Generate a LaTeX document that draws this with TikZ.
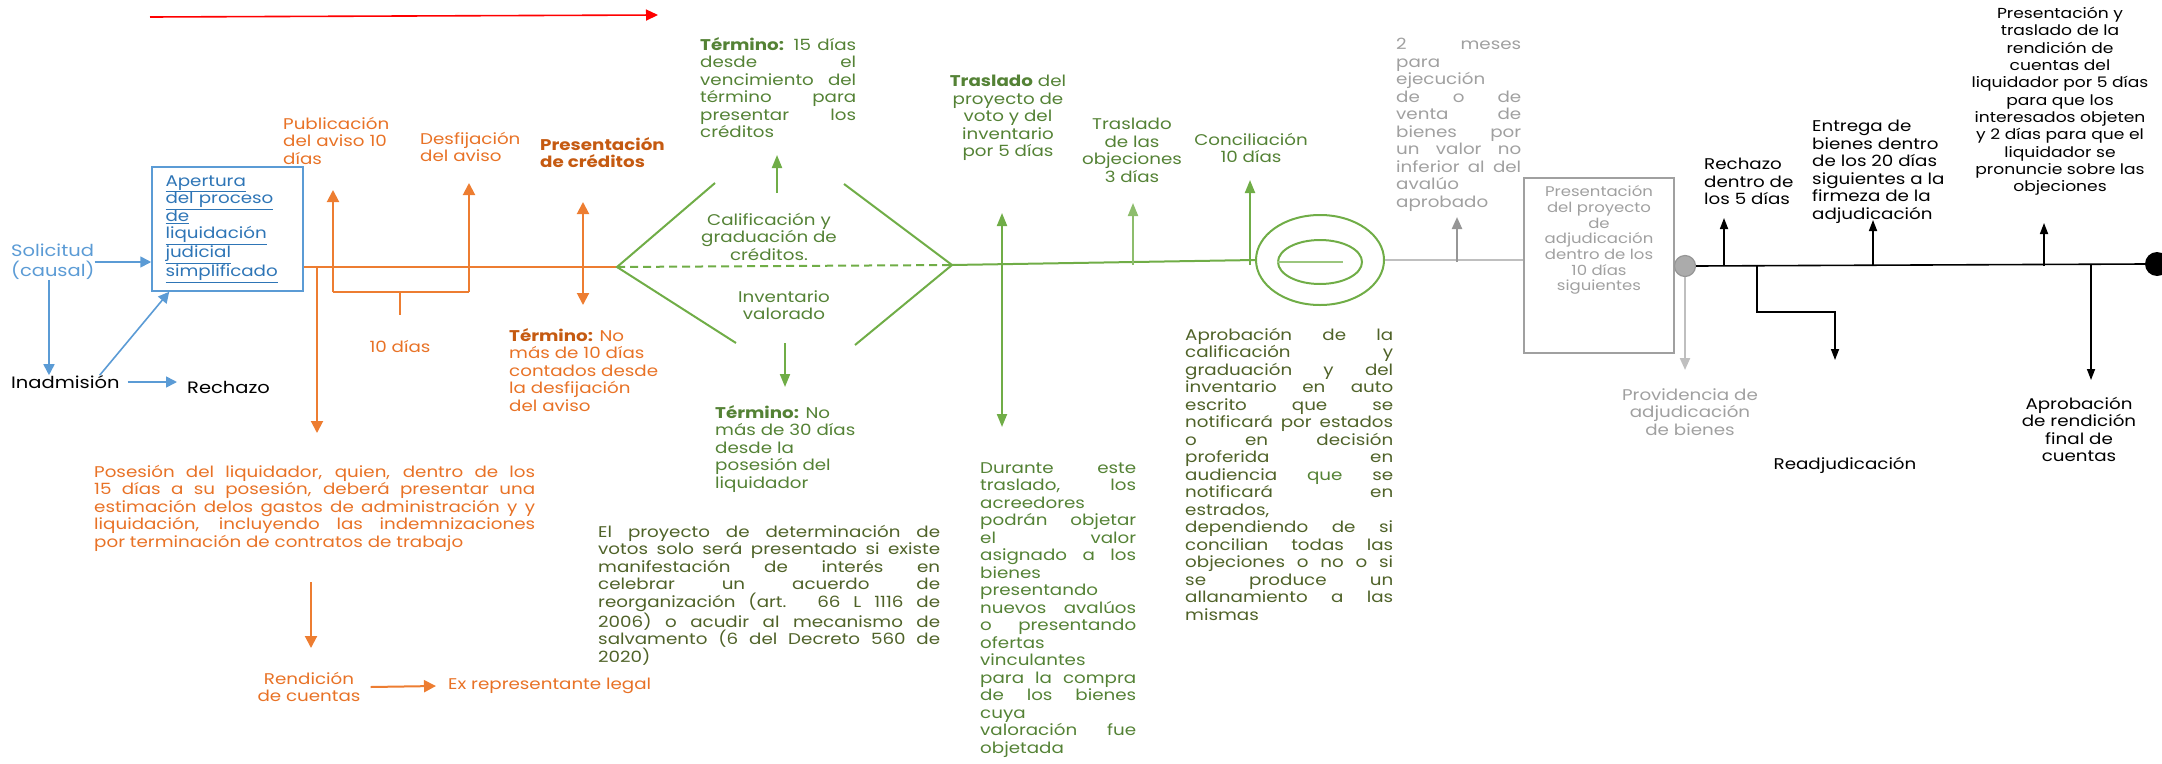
\documentclass[tikz,border=0pt]{standalone}
\usepackage{fontspec}
\setmainfont{Poppins}[FakeStretch=1.18]
\usetikzlibrary{arrows.meta, positioning, shapes.geometric}

\definecolor{naranja}{RGB}{237,125,49}
\definecolor{naranjaT}{RGB}{232,114,38}
\definecolor{naranjaO}{RGB}{197,90,17}
\definecolor{azul}{RGB}{91,155,213}
\definecolor{azulT}{RGB}{46,117,182}
\definecolor{verde}{RGB}{112,173,71}
\definecolor{verdeT}{RGB}{84,130,53}
\definecolor{oliva}{RGB}{79,98,40}
\definecolor{grisL}{RGB}{191,191,191}
\definecolor{grisT}{RGB}{160,160,160}
\definecolor{grisC}{RGB}{150,150,150}

\hyphenpenalty=10000
\exhyphenpenalty=10000
\tolerance=9999
\hbadness=10000
\hfuzz=20pt
\newcommand{\txt}{\fontsize{15.5}{17.5}\selectfont}
\newcommand{\txtg}{\fontsize{16.5}{19.5}\selectfont}

\begin{document}
\begin{tikzpicture}[x=1pt, y=-1pt, font=\txt,
    lbl/.style={inner sep=0pt, align=left},
    just/.style={inner sep=0pt, align=justify, anchor=north west},
    oline/.style={draw=naranja, line width=2pt},
    oarrow/.style={oline, -{Triangle[width=12pt,length=12pt]}},
    gline/.style={draw=verde, line width=2pt},
    garrow/.style={gline, -{Triangle[width=10pt,length=13pt]}},
    bline/.style={draw=azul, line width=1.6pt},
    barrow/.style={bline, -{Triangle[width=11pt,length=11pt]}},
    kline/.style={draw=black, line width=1.6pt},
    karrow/.style={kline, -{Triangle[width=8pt,length=11pt]}},
    grline/.style={draw=grisL, line width=2.2pt},
    grarrow/.style={grline, -{Triangle[width=10pt,length=12pt]}}]

    \useasboundingbox (0,0) rectangle (2162,763);

    % Flecha roja superior
    \coordinate (rojoA) at (150,17);
    \coordinate (rojoB) at (658,15);
    \draw[red, line width=1.6pt, -{Triangle[width=11pt,length=12pt]}] (rojoA) -- (rojoB);

    % Inicio: solicitud, inadmision, rechazo
    \node[lbl, anchor=west, text=azul, font=\txtg] (sol) at (11,262) {Solicitud\\(causal)};
    \node[lbl, anchor=west, font=\txtg] (inad) at (11,382) {Inadmisión};
    \node[lbl, anchor=west, font=\txtg] (rech) at (187,387) {Rechazo};
    \node[draw=azul, line width=1.5pt, minimum width=151, minimum height=124,
          text width=124, align=left, inner sep=0pt, text=azulT] (apertura) at (227.5,229)
          {\underline{Apertura}\\\underline{del proceso}\\\underline{de}\\\underline{liquidación}\\\underline{judicial}\\\underline{simplificado}};

    \draw[barrow] (sol.east) -- (apertura.west |- sol.east);
    \draw[barrow] ([xshift=38]sol.south west) -- ([xshift=38]sol.south west |- inad.north);
    \draw[barrow] ([xshift=-20]inad.north east) -- ([xshift=18]apertura.south west);
    \draw[barrow] ([xshift=8]inad.east) -- ([xshift=-10]rech.west |- inad.east);

    % Tramo naranja
    \coordinate (dmL) at (617,267);
    \draw[oline] (apertura.east |- dmL) -- (dmL);

    \node[lbl, anchor=north west, text=naranjaT] (pub) at (283,117) {Publicación\\del aviso 10\\días};
    \node[lbl, anchor=north west, text=naranjaT] (desf) at (420,132) {Desfijación\\del aviso};
    \node[lbl, anchor=north west, text=naranjaO, font=\txt\bfseries] (prescred) at (540,137) {Presentación\\de créditos};
    \node[lbl, anchor=north west, text=naranjaT] (term10) at (509,328)
          {{\color{naranjaO}\textbf{Término:}} No\\más de 10 días\\contados desde\\la desfijación\\del aviso};
    \node[lbl, text=naranjaT] (diez) at (400,347) {10 días};

    \coordinate (brL) at (333,292);
    \coordinate (brLt) at (333,190);
    \coordinate (brR) at (469,292);
    \coordinate (brRt) at (469,183);
    \coordinate (brM) at (400,292);
    \coordinate (brMb) at (400,315);
    \draw[oarrow] (brL) -- (brLt);
    \draw[oarrow] (brR) -- (brRt);
    \draw[oline] (brL) -- (brR);
    \draw[oline, line width=1.4pt] (brM) -- (brMb);

    \coordinate (dA) at (583,202);
    \coordinate (dB) at (583,305);
    \draw[oline, {Triangle[width=12pt,length=12pt]}-{Triangle[width=12pt,length=12pt]}] (dA) -- (dB);

    \node[just, text width=441, text=naranjaT] (posesion) at (94,465)
          {Posesión del liquidador, quien, dentro de los\linebreak
           15 días a su posesión, deberá presentar una\linebreak
           estimación delos gastos de administración y y\linebreak
           liquidación, incluyendo las indemnizaciones\linebreak
           por terminación de contratos de trabajo};
    \coordinate (oS) at (317,267);
    \coordinate (oE) at (317,433);
    \draw[oarrow] (oS) -- (oE);

    \node[lbl, align=center, text=naranjaT] (rendicion) at (309,687) {Rendición\\de cuentas};
    \node[lbl, anchor=west, text=naranjaT] (exrep) at (448,686) {Ex representante legal};
    \coordinate (rA) at (311,582);
    \coordinate (rB) at (311,648);
    \draw[oarrow] (rA) -- (rB);
    \draw[oarrow] ([xshift=10]rendicion.east) -- ([xshift=-12]exrep.west);

    % Calificacion e inventario
    \coordinate (dmR) at (952,265);
    \coordinate (dTL) at (715,183);
    \coordinate (dTR) at (844,184);
    \coordinate (dBL) at (736,343);
    \coordinate (dBR) at (855,345);
    \draw[gline] (dTL) -- (dmL) -- (dBL);
    \draw[gline] (dTR) -- (dmR) -- (dBR);
    \draw[gline, dashed, dash pattern=on 8pt off 5pt] (dmL) -- (dmR);

    \node[lbl, align=center, anchor=north, text=verdeT] (calif) at (769,213) {Calificación y\\graduación de\\créditos.};
    \node[lbl, align=center, anchor=north, text=verdeT] (invent) at (784,290) {Inventario\\valorado};
    \node[just, text width=156, text=verdeT] (term15) at (700,37)
          {\textbf{Término:} 15 días\linebreak desde el\linebreak vencimiento del\linebreak
           término para\linebreak presentar los\linebreak créditos};
    \node[lbl, anchor=north west, text=verdeT] (term30) at (715,405)
          {\textbf{Término:} No\\más de 30 días\\desde la\\posesión del\\liquidador};
    \node[just, text width=342, text=oliva] (proyvot) at (598,525)
          {El proyecto de determinación de\linebreak
           votos solo será presentado si existe\linebreak
           manifestación de interés en\linebreak
           celebrar un acuerdo de\linebreak
           reorganización (art. 66 L 1116 de\linebreak
           2006) o acudir al mecanismo de\linebreak
           salvamento (6 del Decreto 560 de\linebreak
           2020)};

    \coordinate (calUp) at (777,193);
    \coordinate (calUpt) at (777,155);
    \coordinate (invDn) at (785,343);
    \coordinate (invDnt) at (785,387);
    \draw[garrow] (calUp) -- (calUpt);
    \draw[garrow] (invDn) -- (invDnt);

    % Traslados y conciliacion
    \node[draw=verde, line width=2pt, ellipse, minimum width=128, minimum height=90] (elO) at (1320,260) {};
    \node[draw=verde, line width=2pt, ellipse, minimum width=84, minimum height=44] (elI) at (1320,262) {};
    \coordinate (elIc) at (1343,262);
    \draw[gline] (dmR) -- (elO.west);
    \draw[gline, draw=verde!70] (elI.west) -- (elIc);

    \node[lbl, align=center, anchor=north, text=verdeT] (traslado) at (1008,75)
          {\textbf{Traslado} del\\proyecto de\\voto y del\\inventario\\por 5 días};
    \node[just, text width=156, text=verdeT] (durante) at (980,462)
          {Durante este\linebreak traslado, los\linebreak acreedores\linebreak podrán objetar\linebreak
           el valor\linebreak asignado a los\linebreak bienes\linebreak presentando\linebreak
           nuevos avalúos\linebreak o presentando\linebreak ofertas\linebreak vinculantes\linebreak
           para la compra\linebreak de los bienes\linebreak cuya\linebreak valoración fue\linebreak objetada};
    \node[lbl, align=center, anchor=north, text=verdeT] (trasobj) at (1132,118)
          {Traslado\\de las\\objeciones\\3 días};
    \node[lbl, align=center, anchor=north, text=verdeT] (concil) at (1251,133) {Conciliación\\10 días};
    \node[just, text width=208, text=oliva] (aprob) at (1185,328)
          {Aprobación de la\linebreak calificación y\linebreak graduación y del\linebreak
           inventario en auto\linebreak escrito que se\linebreak notificará por estados\linebreak
           o en decisión\linebreak proferida en\linebreak audiencia {\color{verdeT}que} se\linebreak
           notificará en\linebreak estrados,\linebreak dependiendo de si\linebreak
           concilian todas las\linebreak objeciones o no o si\linebreak se produce un\linebreak
           allanamiento a las\linebreak mismas};

    \coordinate (trA) at (1002,213);
    \coordinate (trB) at (1002,427);
    \coordinate (objA) at (1133,265);
    \coordinate (objAt) at (1133,203);
    \coordinate (conA) at (1250,265);
    \coordinate (conAt) at (1250,180);
    \draw[gline, {Triangle[width=10pt,length=13pt]}-{Triangle[width=10pt,length=13pt]}] (trA) -- (trB);
    \draw[garrow, draw=verde!80] (objA) -- (objAt);
    \draw[garrow] (conA) -- (conAt);

    % Adjudicacion (gris)
    \node[draw=grisT, line width=1.2pt, minimum width=150, minimum height=175, inner sep=0pt] (adj) at (1599,265.5) {};
    \node[lbl, align=center, anchor=north, text=grisT, font=\fontsize{14}{15.7}\selectfont,
          below=8pt of adj.north] (adjtxt)
          {Presentación\\del proyecto\\de\\adjudicación\\dentro de los\\10 días\\siguientes};
    \draw[grline] (elO.east) -- (elO.east -| adj.west);
    \node[just, text width=125, text=grisT] (dosmeses) at (1396,38)
          {2 meses\linebreak para\linebreak ejecución\linebreak de o de\linebreak venta de\linebreak
           bienes por\linebreak un valor no\linebreak inferior al del\linebreak avalúo\linebreak aprobado};
    \coordinate (gUp) at (1457,262);
    \coordinate (gUpt) at (1457,217);
    \draw[grarrow, draw=grisC] (gUp) -- (gUpt);

    \node[circle, draw=grisC, line width=1.2pt, fill=grisC!80, minimum size=21, inner sep=0pt] (gc) at (1685,266) {};
    \node[lbl, align=center, anchor=north, text=grisT] (provid) at (1690,388)
          {Providencia de\\adjudicación\\de bienes};
    \coordinate (gDn) at (1685,370);
    \draw[grarrow] (gc.south) -- (gDn);

    % Tramo final (negro)
    \node[circle, fill=black, minimum size=24, inner sep=0pt] (bd) at (2157,264) {};
    \draw[kline] (gc.east) -- (bd.west);

    \node[lbl, anchor=north west] (rech5) at (1704,158) {Rechazo\\dentro de\\los 5 días};
    \node[lbl, anchor=north west] (entrega) at (1812,120)
          {Entrega de\\bienes dentro\\de los 20 días\\siguientes a la\\firmeza de la\\adjudicación};
    \node[lbl] (readj) at (1845,465) {Readjudicación};
    \node[lbl, align=center, anchor=north, font=\fontsize{14.5}{17.3}\selectfont] (rendtras) at (2060,7)
          {Presentación y\\traslado de la\\rendición de\\cuentas del\\liquidador por 5 días\\para que los\\
           interesados objeten\\y 2 días para que el\\liquidador se\\pronuncie sobre las\\objeciones};
    \node[lbl, align=center, anchor=north] (aprobfin) at (2079,397)
          {Aprobación\\de rendición\\final de\\cuentas};

    \coordinate (kR5) at (1724,266);
    \coordinate (kR5t) at (1724,218);
    \coordinate (kS) at (1757,266);
    \coordinate (kS1) at (1757,312);
    \coordinate (kS2) at (1835,312);
    \coordinate (kS3) at (1835,360);
    \coordinate (kEn) at (1873,266);
    \coordinate (kEnt) at (1873,220);
    \coordinate (kRe) at (2044,266);
    \coordinate (kRet) at (2044,223);
    \coordinate (kAp) at (2091,264);
    \coordinate (kApt) at (2091,380);
    \draw[karrow] (kR5) -- (kR5t);
    \draw[karrow] (kS) -- (kS1) -- (kS2) -- (kS3);
    \draw[karrow] (kEn) -- (kEnt);
    \draw[karrow] (kRe) -- (kRet);
    \draw[karrow] (kAp) -- (kApt);
\end{tikzpicture}
\end{document}
